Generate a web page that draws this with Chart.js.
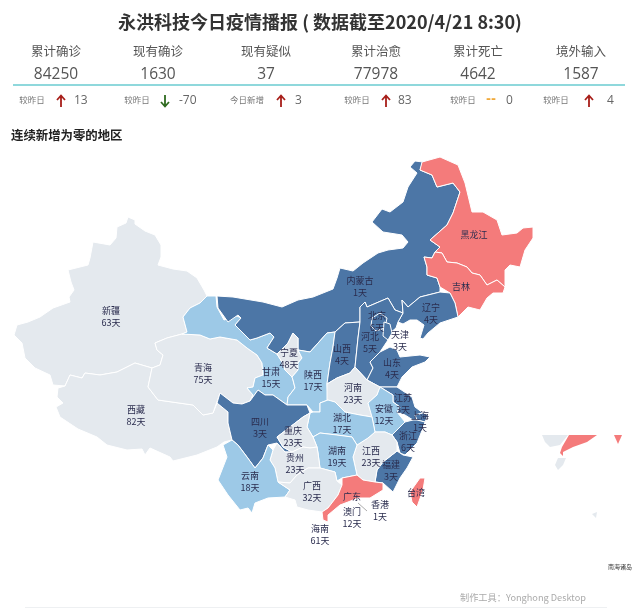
<!DOCTYPE html>
<html>
<head>
<meta charset="utf-8">
<script src="https://cdn.jsdelivr.net/npm/chart.js@4/dist/chart.umd.min.js"></script>
<style>
html,body{margin:0;padding:0;background:#fff;width:640px;height:616px;overflow:hidden;font-family:"Noto Sans CJK SC",sans-serif}
#map{position:absolute;left:0;top:0}
.t{position:absolute;white-space:nowrap;line-height:1}
.c{transform:translateX(-50%)}
svg{position:absolute}
</style>
</head>
<body>
<canvas id="map" width="640" height="616"></canvas>
<div id="head"></div>
<script>
// 数据
const kpiNames = ['累计确诊','现有确诊','现有疑似','累计治愈','累计死亡','境外输入']
const kpiValues = ['84250','1630','37','77978','4642','1587']
const kpiCompare = ['较昨日','较昨日','今日新增','较昨日','较昨日','较昨日']
const kpiDelta = ['13','-70','3','83','0','4']

const regions = ['新疆','西藏','青海','甘肃','内蒙古','黑龙江','吉林','辽宁','宁夏','陕西','山西','河北','北京','天津','山东','河南','江苏','安徽','上海','浙江','福建','江西','湖北','湖南','四川','重庆','贵州','云南','广西','广东','台湾']
const zeroDays = [63,82,75,15,1,null,null,4,48,17,4,5,6,3,4,23,3,12,1,6,3,23,17,19,3,23,23,18,32,null,null]

// 只有标注、图上没有色块的地区
const extraRegions = ['澳门','香港','海南']
const extraDays = [12,1,61]

const xinjiang = [[128,217],[135,220],[135,224],[145,231],[155,235],[161,245],[161,257],[158,265],[173,269],[187,271],[197,278],[204,290],[207,296],[200,303],[190,308],[183,317],[187,332],[182,334],[167,338],[155,343],[157,350],[163,355],[160,365],[152,368],[135,363],[117,372],[100,375],[85,373],[82,378],[70,375],[65,386],[53,385],[50,375],[35,368],[25,358],[22,343],[14,335],[17,325],[28,322],[40,317],[53,308],[70,302],[69,297],[74,290],[71,282],[68,270],[88,265],[90,258],[93,242],[110,245],[116,238],[117,227],[126,223]]
const tibet = [[70,375],[82,378],[85,373],[100,375],[117,372],[135,363],[152,368],[148,387],[158,400],[193,405],[203,415],[213,413],[217,403],[228,412],[228,423],[232,440],[224,442],[217,447],[197,455],[173,461],[170,457],[150,448],[145,455],[142,449],[127,450],[107,445],[97,437],[78,429],[60,417],[56,407],[63,403],[57,397],[58,388],[65,386]]
const qinghai = [[155,343],[167,338],[182,334],[200,335],[210,339],[220,337],[237,340],[247,348],[257,355],[262,363],[263,375],[255,378],[253,387],[247,388],[253,395],[250,401],[242,404],[233,403],[220,393],[213,413],[203,415],[193,405],[158,400],[148,387],[152,368],[160,365],[163,355],[157,350]]
const gansu = [[207,296],[216,296],[217,307],[224,320],[237,316],[241,318],[235,325],[250,340],[257,338],[270,333],[274,337],[267,348],[277,354],[282,362],[285,370],[292,377],[293,380],[295,388],[288,397],[287,405],[273,395],[265,395],[258,390],[250,401],[253,395],[247,388],[253,387],[255,378],[263,375],[262,363],[257,355],[247,348],[237,340],[220,337],[210,339],[200,335],[182,334],[187,332],[183,317],[190,308],[200,303]]
const innerMongolia = [[410,167],[415,161],[423,162],[420,170],[432,175],[437,187],[453,183],[460,192],[453,213],[447,225],[430,240],[440,247],[435,252],[432,258],[424,257],[427,267],[427,275],[437,278],[440,287],[440,292],[420,297],[408,307],[402,300],[403,313],[395,310],[388,298],[367,307],[365,302],[360,307],[360,322],[345,323],[335,332],[327,333],[310,352],[298,350],[298,338],[293,333],[288,343],[277,354],[267,348],[274,337],[270,333],[257,338],[250,340],[235,325],[241,318],[238,315],[228,322],[218,308],[217,296],[233,297],[263,302],[282,307],[298,300],[313,297],[333,289],[337,278],[340,268],[353,271],[363,263],[378,253],[388,250],[403,248],[408,242],[402,235],[383,232],[372,222],[382,209],[390,212],[403,202],[408,187],[417,173]]
const heilongjiang = [[422,162],[440,157],[458,165],[465,183],[472,212],[483,212],[497,220],[502,235],[517,233],[523,228],[533,227],[533,238],[525,250],[520,267],[510,265],[505,270],[505,287],[497,280],[487,285],[480,275],[472,273],[467,267],[457,263],[447,262],[442,253],[435,252],[440,247],[430,240],[447,225],[453,213],[460,192],[453,183],[437,187],[432,175],[420,170]]
const jilin = [[435,252],[442,253],[447,262],[457,263],[467,267],[472,273],[480,275],[487,285],[497,280],[505,287],[503,293],[493,293],[487,298],[480,310],[468,307],[458,317],[455,303],[450,293],[440,287],[437,278],[427,275],[427,267],[424,257],[432,258]]
const liaoning = [[440,292],[450,293],[455,303],[458,317],[440,323],[428,333],[423,339],[420,338],[424,325],[417,320],[410,320],[403,324],[398,322],[403,313],[402,300],[408,307],[420,297]]
const ningxia = [[293,333],[298,338],[298,350],[302,358],[298,363],[298,370],[292,377],[285,370],[282,362],[277,354],[288,343]]
const shaanxi = [[335,332],[333,347],[330,363],[327,384],[328,400],[320,403],[320,412],[313,412],[307,405],[287,405],[288,397],[295,388],[293,380],[292,377],[298,370],[298,363],[302,358],[298,350],[310,352],[327,333]]
const shanxi = [[335,332],[345,323],[360,322],[358,338],[355,367],[350,373],[337,378],[327,384],[330,363],[333,347]]
const hebei = [[365,302],[367,307],[388,298],[395,310],[403,313],[398,322],[396,328],[390,333],[388,340],[380,352],[370,362],[373,368],[367,380],[355,367],[358,338],[360,322],[360,307]]
const beijing = [[372,318],[380,313],[387,318],[385,328],[376,331],[371,326]]
const tianjin = [[384,322],[390,324],[392,333],[388,340],[383,336]]
const shandong = [[367,380],[373,368],[370,362],[380,352],[390,347],[397,350],[400,357],[420,355],[430,357],[425,362],[412,367],[402,377],[397,387],[390,387],[380,387]]
const henan = [[327,384],[337,378],[350,373],[355,367],[367,380],[380,387],[377,395],[368,403],[372,417],[360,415],[345,412],[335,402],[327,400]]
const jiangsu = [[380,387],[390,387],[397,387],[412,397],[415,407],[423,413],[415,415],[417,420],[413,420],[405,415],[397,412],[400,407],[393,402],[393,395]]
const anhui = [[380,387],[393,395],[393,402],[400,407],[397,412],[405,422],[395,432],[392,435],[385,432],[375,432],[372,417],[368,403],[377,395]]
const shanghai = [[415,415],[423,413],[428,415],[425,422],[417,420]]
const zhejiang = [[405,422],[413,420],[417,420],[425,422],[423,428],[417,443],[405,455],[400,453],[397,442],[392,435],[395,432]]
const fujian = [[397,451],[403,455],[413,457],[407,468],[400,478],[393,492],[383,483],[375,482],[377,470],[383,462]]
const jiangxi = [[375,432],[385,432],[392,435],[397,442],[397,451],[383,462],[377,470],[375,482],[363,480],[357,475],[353,457],[357,445],[368,438]]
const hubei = [[320,403],[328,400],[335,402],[345,412],[360,415],[372,417],[375,432],[368,438],[357,445],[352,437],[337,435],[320,433],[313,437],[307,427],[310,413],[313,412],[320,412]]
const hunan = [[313,437],[320,433],[337,435],[352,437],[357,445],[353,457],[357,475],[347,477],[342,478],[337,481],[335,472],[320,468],[318,453],[317,447]]
const sichuan = [[220,393],[217,403],[228,412],[228,423],[232,440],[238,445],[247,457],[255,468],[263,458],[268,445],[277,443],[285,452],[292,452],[283,447],[277,437],[290,427],[303,417],[310,413],[307,405],[287,405],[273,395],[265,395],[258,390],[250,401],[242,404],[233,403]]
const chongqing = [[310,413],[307,427],[313,437],[317,447],[310,448],[303,447],[292,452],[283,447],[277,437],[290,427],[303,417]]
const guizhou = [[270,460],[273,450],[277,443],[285,452],[292,452],[303,447],[310,448],[317,447],[318,453],[320,468],[308,468],[297,475],[290,483],[278,482],[275,468]]
const yunnan = [[232,440],[223,445],[227,457],[218,480],[228,495],[240,510],[248,508],[252,513],[255,503],[268,498],[285,497],[290,490],[278,482],[275,468],[270,460],[273,450],[268,445],[263,458],[255,468],[247,457],[238,445]]
const guangxi = [[278,482],[290,483],[297,475],[308,468],[320,468],[335,472],[337,481],[342,485],[338,495],[328,508],[322,512],[308,510],[297,507],[295,500],[285,497],[290,490]]
const guangdong = [[342,478],[347,477],[357,475],[363,480],[375,482],[383,483],[383,490],[370,498],[358,498],[348,502],[340,505],[328,515],[328,522],[323,520],[322,512],[328,508],[338,495],[342,485]]
const taiwan = [[420,478],[425,478],[423,490],[417,507],[412,502],[410,492]]

const shapes = [xinjiang,tibet,qinghai,gansu,innerMongolia,heilongjiang,jilin,liaoning,ningxia,shaanxi,shanxi,hebei,beijing,tianjin,shandong,henan,jiangsu,anhui,shanghai,zhejiang,fujian,jiangxi,hubei,hunan,sichuan,chongqing,guizhou,yunnan,guangxi,guangdong,taiwan]

// 右下角南海小图
const insetGuangxi = [[542,435],[568,435],[560,445],[550,447],[545,442]]
const insetGuangdong = [[569,435],[597,435],[587,442],[573,447],[563,452],[563,456],[560,453],[562,447]]
const insetHainan = [[558,458],[566,458],[563,465],[558,470],[555,465]]
const insetTaiwan = [[614,435],[622,435],[618,444]]
const insetIsland = [[592,514],[597,512],[596,518]]
const insetShapes = [insetGuangxi,insetGuangdong,insetHainan,insetTaiwan,insetIsland]
const insetDays = [32,null,61,null,61]

// 标注位置
const labelX = [111,136,203,271,360,474,461,431,289,313,342,370,377,400,392,353,403,384,420,408,391,371,342,337,260,293,295,250,312,352,416]
const labelY = [311,410,368,372,281,235,287,308,353,375,349,337,316,335,363,388,398,409,416,436,465,451,418,451,422,431,458,476,486,497,493]
const extraX = [352,380,320]
const extraY = [512,505,529]
const leader = [[358,503],[367,511]]

function regionColor(d){
  if(d===null) return '#f47b7b'
  if(d<=6) return '#4c76a6'
  if(d<=19) return '#9dc9e7'
  return '#e4e9ee'
}

function addText(text,x,y,style,center){
  const el = document.createElement('div')
  el.className = 't'+(center?' c':'')
  el.textContent = text
  el.style.cssText = 'left:'+x+'px;top:'+y+'px;'+style
  document.getElementById('head').appendChild(el)
}

function addArrow(x,up,color){
  const path = up?'M5 13V2M1 6L5 1.5L9 6':'M5 1V12M1 8L5 12.5L9 8'
  const html = '<svg style="left:'+(x-5)+'px;top:94px" width="10" height="14"><path d="'+path+'" fill="none" stroke="'+color+'" stroke-width="1.8"/></svg>'
  document.getElementById('head').insertAdjacentHTML('beforeend',html)
}

// 头部
addText('永洪科技今日疫情播报 ( 数据截至2020/4/21 8:30)',320,8,'font:bold 18px "Noto Sans CJK SC";color:#333',true)
const nameX = [56,158,266,376,478,581]
const compareX = [32,137,247,357,463,556]
const arrowX = [61,165,281,386,491,589]
const deltaX = [74,179,295,398,506,607]
kpiNames.forEach((n,i)=>{
  addText(n,nameX[i],41,'font:12.5px "Noto Sans CJK SC";color:#555',true)
  addText(kpiValues[i],nameX[i],62,'font:15.5px "Open Sans";color:#555',true)
  addText(kpiCompare[i],compareX[i],93,'font:8.5px "Noto Sans CJK SC";color:#777',true)
  addText(kpiDelta[i],deltaX[i],91,'font:12px "Open Sans";color:#666')
  const d = parseInt(kpiDelta[i])
  if(d>0) addArrow(arrowX[i],true,'#a81f1a')
  else if(d<0) addArrow(arrowX[i],false,'#2f6b20')
  else addText('--',arrowX[i],92,'font:bold 12px "DejaVu Sans";color:#f0a93a',true)
})
addText('连续新增为零的地区',11,126,'font:bold 12.4px "Noto Sans CJK SC";color:#222')
addText('制作工具：Yonghong Desktop',460,590,'font:9.2px "Noto Sans CJK SC";color:#aaa')
const rule = document.createElement('div')
rule.style.cssText = 'position:absolute;left:13px;top:84px;width:612px;height:1.5px;background:#8fd8dc'
document.body.appendChild(rule)
const foot = document.createElement('div')
foot.style.cssText = 'position:absolute;left:25px;top:607px;width:582px;height:1px;background:#eef0f2'
document.body.appendChild(foot)

function toPoints(shape){
  return shape.map(p=>({x:p[0],y:p[1]}))
}

const datasets = []
shapes.forEach((s,i)=>{
  datasets.push({label:regions[i],data:toPoints(s),backgroundColor:regionColor(zeroDays[i]),borderColor:'#fff',borderWidth:1,pointRadius:0})
})
insetShapes.forEach((s,i)=>{
  datasets.push({label:'inset',data:toPoints(s),backgroundColor:regionColor(insetDays[i]),borderColor:'#fff',borderWidth:0,pointRadius:0})
})
datasets.push({label:'leader',data:toPoints(leader),showLine:true,borderColor:'#888',borderWidth:0.7,pointRadius:0})

// 用scatter算好的点连成省份多边形
const polygonPlugin = {
  id:'regionPolygons',
  beforeDatasetsDraw(chart){
    const c = chart.ctx
    chart.data.datasets.forEach((ds,i)=>{
      if(ds.showLine) return
      const pts = chart.getDatasetMeta(i).data
      c.beginPath()
      pts.forEach((p,j)=>{ if(j===0) c.moveTo(p.x,p.y); else c.lineTo(p.x,p.y) })
      c.closePath()
      c.fillStyle = ds.backgroundColor
      c.fill()
      if(ds.borderWidth>0){
        c.strokeStyle = ds.borderColor
        c.lineWidth = ds.borderWidth
        c.lineJoin = 'round'
        c.stroke()
      }
    })
  }
}

const labelPlugin = {
  id:'regionLabels',
  afterDatasetsDraw(chart){
    const c = chart.ctx, sx = chart.scales.x, sy = chart.scales.y
    c.save()
    c.textAlign = 'center'
    c.textBaseline = 'middle'
    c.fillStyle = '#2a2c4e'
    c.font = '9px "Noto Sans CJK SC"'
    const put = (name,d,x,y)=>{
      c.fillText(name,sx.getPixelForValue(x),sy.getPixelForValue(y))
      if(d!==null) c.fillText(d+'天',sx.getPixelForValue(x),sy.getPixelForValue(y+11.5))
    }
    regions.forEach((r,i)=>put(r,zeroDays[i],labelX[i],labelY[i]))
    extraRegions.forEach((r,i)=>put(r,extraDays[i],extraX[i],extraY[i]))
    c.font = '6px "Noto Sans CJK SC"'
    c.fillStyle = '#333'
    c.fillText('南海诸岛',sx.getPixelForValue(620),sy.getPixelForValue(567))
    c.restore()
  }
}

new Chart(document.getElementById('map'),{
  type:'scatter',
  data:{datasets:datasets},
  plugins:[polygonPlugin,labelPlugin],
  options:{
    responsive:false,
    animation:false,
    devicePixelRatio:1,
    layout:{padding:0},
    plugins:{legend:{display:false},tooltip:{enabled:false},title:{display:false}},
    scales:{
      x:{type:'linear',min:0,max:640,display:false},
      y:{type:'linear',min:0,max:616,reverse:true,display:false}
    }
  }
})
</script>
</body>
</html>
